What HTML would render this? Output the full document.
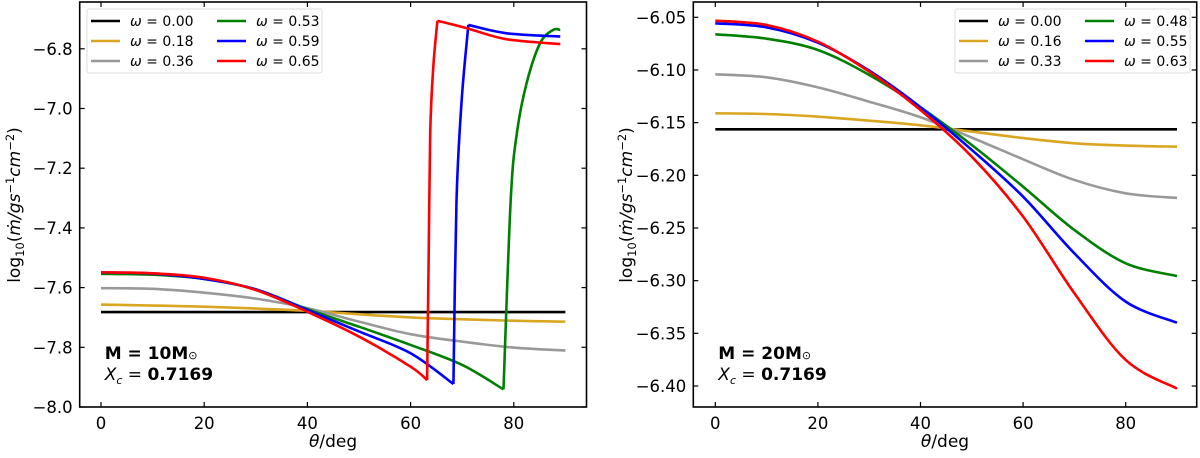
<!DOCTYPE html>
<html><head><meta charset="utf-8"><style>
html,body{margin:0;padding:0;background:#fff;}
svg{display:block;font-family:"DejaVu Sans","Liberation Sans",sans-serif;}
</style></head><body>
<svg id="chart" width="1200" height="458" viewBox="0 0 1200 458"></svg>
<script>
// ---------- data: left panel (M = 10 Msun) ----------
const leftXTicks = [0, 20, 40, 60, 80];
const leftYTicks = [-6.8, -7.0, -7.2, -7.4, -7.6, -7.8, -8.0];
const leftLegend = ["0.00", "0.18", "0.36", "0.53", "0.59", "0.65"];
const leftBlackTheta = [0, 90];
const leftBlackVal = [-7.682, -7.682];
const leftOrangeTheta = [0, 20, 40, 60, 80, 90];
const leftOrangeVal = [-7.657, -7.664, -7.678, -7.700, -7.711, -7.714];
const leftGrayTheta = [0, 10, 20, 30, 40, 50, 60, 70, 80, 90];
const leftGrayVal = [-7.602, -7.604, -7.617, -7.637, -7.669, -7.714, -7.756, -7.781, -7.801, -7.811];
const leftGreenTheta = [0, 10, 20, 30, 40, 50, 60, 70, 78.0, null, 78.0, 79.4, 80.6, 82.5, 85.1, 87.6, 89];
const leftGreenVal = [-7.554, -7.557, -7.571, -7.606, -7.672, -7.731, -7.792, -7.859, -7.941, null, -7.941, -7.307, -7.082, -6.914, -6.781, -6.737, -6.737];
const leftBlueTheta = [0, 10, 20, 30, 40, 50, 60, 68.3, null, 68.3, 68.9, 69.9, 71.2, null, 71.2, 78.6, 89];
const leftBlueVal = [-7.549, -7.553, -7.571, -7.606, -7.675, -7.747, -7.820, -7.923, null, -7.923, -7.307, -6.972, -6.720, null, -6.720, -6.748, -6.759];
const leftRedTheta = [0, 10, 20, 30, 40, 50, 60, 63.2, null, 63.2, 63.5, 63.8, 64.4, 65.2, null, 65.2, 70.9, 78.6, 89];
const leftRedVal = [-7.549, -7.552, -7.567, -7.608, -7.681, -7.764, -7.865, -7.910, null, -7.910, -7.500, -7.082, -6.860, -6.706, null, -6.706, -6.731, -6.768, -6.784];

// ---------- data: right panel (M = 20 Msun) ----------
const rightXTicks = [0, 20, 40, 60, 80];
const rightYTicks = [-6.05, -6.10, -6.15, -6.20, -6.25, -6.30, -6.35, -6.40];
const rightLegend = ["0.00", "0.16", "0.33", "0.48", "0.55", "0.63"];
const rightTheta = [0, 10, 20, 30, 40, 50, 60, 70, 80, 90];
const rightBlackVal = [-6.1563, -6.1563, -6.1563, -6.1563, -6.1563, -6.1563, -6.1563, -6.1563, -6.1563, -6.1563];
const rightOrangeVal = [-6.1411, -6.1418, -6.1443, -6.1481, -6.1525, -6.1585, -6.1646, -6.1696, -6.1718, -6.1728];
const rightGrayVal = [-6.1041, -6.1070, -6.1165, -6.1301, -6.1449, -6.1642, -6.1848, -6.2044, -6.2171, -6.2215];
const rightGreenVal = [-6.0661, -6.0703, -6.0810, -6.1047, -6.1354, -6.1712, -6.2108, -6.2519, -6.2835, -6.2956];
const rightBlueVal = [-6.0557, -6.0595, -6.0741, -6.1006, -6.1354, -6.1759, -6.2203, -6.2741, -6.3199, -6.3399];
const rightRedVal = [-6.0532, -6.0573, -6.0731, -6.1016, -6.1380, -6.1823, -6.2392, -6.3120, -6.3753, -6.4025];

const COLORS = ["#000000", "#DAA520", "#999999", "#008000", "#0000FF", "#FF0000"];
const NS = "http://www.w3.org/2000/svg";
const svg = document.getElementById("chart");
function mk(tag, attrs, parent) {
  const e = document.createElementNS(NS, tag);
  for (const k in attrs) e.setAttribute(k, attrs[k]);
  (parent || svg).appendChild(e);
  return e;
}

function smoothPath(pts) {
  if (pts.length < 3) return pts.map((p, i) => (i ? "L" : "M") + p[0].toFixed(2) + "," + p[1].toFixed(2)).join("");
  let d = "M" + pts[0][0].toFixed(2) + "," + pts[0][1].toFixed(2);
  for (let i = 0; i < pts.length - 1; i++) {
    const p0 = pts[Math.max(0, i - 1)], p1 = pts[i], p2 = pts[i + 1], p3 = pts[Math.min(pts.length - 1, i + 2)];
    const c1 = [p1[0] + (p2[0] - p0[0]) / 6, p1[1] + (p2[1] - p0[1]) / 6];
    const c2 = [p2[0] - (p3[0] - p1[0]) / 6, p2[1] - (p3[1] - p1[1]) / 6];
    d += "C" + c1[0].toFixed(2) + "," + c1[1].toFixed(2) + " " + c2[0].toFixed(2) + "," + c2[1].toFixed(2) + " " + p2[0].toFixed(2) + "," + p2[1].toFixed(2);
  }
  return d;
}

function panel(cfg) {
  const g = mk("g", {});
  
  
  const xs = t => cfg.x0 + t * cfg.xk;
  const ys = v => cfg.yTop - (v - cfg.vTop) * cfg.yk;
  cfg.series.forEach((s, si) => {
    const segs = []; let cur = [];
    for (let i = 0; i < s.t.length; i++) {
      if (s.t[i] === null) { segs.push(cur); cur = []; continue; }
      cur.push([xs(s.t[i]), ys(s.v[i])]);
    }
    segs.push(cur);
    let d = segs.map(sg => smoothPath(sg)).join("");
    const p = mk("path", { d: d, fill: "none", stroke: COLORS[si], "stroke-width": 2.6, "stroke-linejoin": "miter" }, g);
    
    
  });
  const fr = mk("rect", { x: cfg.L, y: cfg.T, width: cfg.R - cfg.L, height: cfg.B - cfg.T, fill: "none", stroke: "#000", "stroke-width": 1.6 }, g);
  
  
  cfg.xTicks.forEach(t => {
    const x = xs(t);
    mk("line", { x1: x, x2: x, y1: cfg.B, y2: cfg.B - 5, stroke: "#000", "stroke-width": 1.2 }, g);
    mk("line", { x1: x, x2: x, y1: cfg.T, y2: cfg.T + 5, stroke: "#000", "stroke-width": 1.2 }, g);
    const tx = mk("text", { x: x, y: cfg.B + 22, "text-anchor": "middle", "font-size": 16.5, fill: "#000" }, g);
    tx.textContent = String(t);
    
    
  });
  cfg.yTicks.forEach(v => {
    const y = ys(v);
    mk("line", { x1: cfg.L, x2: cfg.L + 5, y1: y, y2: y, stroke: "#000", "stroke-width": 1.2 }, g);
    mk("line", { x1: cfg.R, x2: cfg.R - 5, y1: y, y2: y, stroke: "#000", "stroke-width": 1.2 }, g);
    const tx = mk("text", { x: cfg.L - 7, y: y + 6, "text-anchor": "end", "font-size": 16.5, fill: "#000" }, g);
    tx.textContent = "\u2212" + Math.abs(v).toFixed(cfg.dec);
    
    
  });
  const xt = mk("text", { x: (cfg.L + cfg.R) / 2, y: 447, "text-anchor": "middle", "font-size": 17, fill: "#000" }, g);
  xt.innerHTML = '<tspan font-style="italic">θ</tspan>/deg';
  
  
  const yt = mk("text", { x: 0, y: 0, "text-anchor": "middle", "font-size": 17, fill: "#000", transform: "translate(" + cfg.ylx + ",205) rotate(-90)" }, g);
  yt.innerHTML = 'log<tspan font-size="11.5" dy="4">10</tspan><tspan dy="-4">(</tspan><tspan font-style="italic">ṁ/gs</tspan><tspan font-size="11.5" dy="-6">−1</tspan><tspan font-style="italic" dy="6">cm</tspan><tspan font-size="11.5" dy="-6">−2</tspan><tspan dy="6">)</tspan>';
  
  
  const lg = mk("g", {}, g);
  
  
  mk("rect", { x: cfg.lgx, y: 9, width: 235, height: 64, rx: 2, fill: "#fff", stroke: "#ddd", "stroke-width": 1, "fill-opacity": 0.85 }, lg);
  cfg.legend.forEach((lab, i) => {
    const col = Math.floor(i / 3), row = i % 3;
    const bx = cfg.lgx + 4 + col * 126, by = 21 + row * 20;
    mk("line", { x1: bx, x2: bx + 29, y1: by, y2: by, stroke: COLORS[i], "stroke-width": 2.6 }, lg);
    const t = mk("text", { x: bx + 39, y: by + 5, "font-size": 14, fill: "#000" }, lg);
    t.innerHTML = '<tspan font-style="italic">ω</tspan> = ' + lab;
    
    
  });
  const a1 = mk("text", { x: cfg.L + 25, y: 359, "font-size": 17, "font-weight": "bold", fill: "#000" }, g);
  a1.innerHTML = 'M = ' + cfg.mass + 'M<tspan font-size="11" font-weight="normal">⊙</tspan>';
  
  
  const a2 = mk("text", { x: cfg.L + 25, y: 380, "font-size": 17, fill: "#000" }, g);
  a2.innerHTML = '<tspan font-style="italic">X</tspan><tspan font-style="italic" font-size="11" dy="4">c</tspan><tspan dy="-4"> = </tspan><tspan font-weight="bold"> 0.7169</tspan>';
  
  
}

panel({
  name: "left-panel", L: 79.7, R: 586.5, T: 2, B: 407,
  x0: 101, xk: 5.16, yTop: 407, vTop: -8.0, yk: 298.5, dec: 1,
  xTicks: leftXTicks, yTicks: leftYTicks, legend: leftLegend, ylx: 20, lgx: 87, mass: "10",
  series: [
    { t: leftBlackTheta, v: leftBlackVal }, { t: leftOrangeTheta, v: leftOrangeVal },
    { t: leftGrayTheta, v: leftGrayVal }, { t: leftGreenTheta, v: leftGreenVal },
    { t: leftBlueTheta, v: leftBlueVal }, { t: leftRedTheta, v: leftRedVal }
  ]
});
panel({
  name: "right-panel", L: 693.3, R: 1196.7, T: 2, B: 407,
  x0: 715.3, xk: 5.13, yTop: 386, vTop: -6.40, yk: 1053.4, dec: 2,
  xTicks: rightXTicks, yTicks: rightYTicks, legend: rightLegend, ylx: 632, lgx: 955, mass: "20",
  series: [
    { t: rightTheta, v: rightBlackVal }, { t: rightTheta, v: rightOrangeVal },
    { t: rightTheta, v: rightGrayVal }, { t: rightTheta, v: rightGreenVal },
    { t: rightTheta, v: rightBlueVal }, { t: rightTheta, v: rightRedVal }
  ]
});
</script>
</body></html>
